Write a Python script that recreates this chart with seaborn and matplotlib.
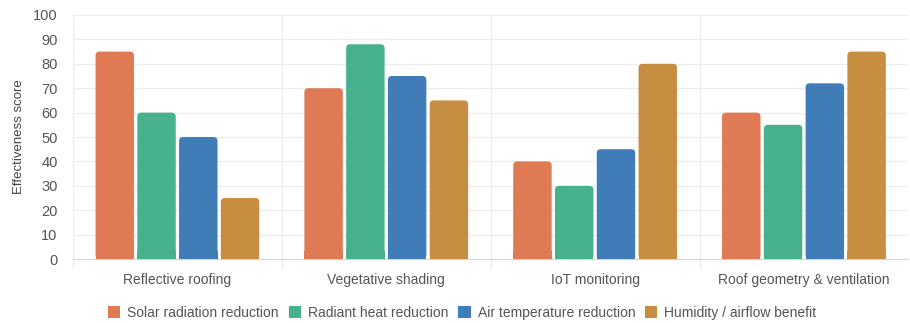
import matplotlib
matplotlib.use("Agg")
import matplotlib.pyplot as plt
import seaborn as sns
import pandas as pd
from matplotlib.patches import FancyBboxPatch, Patch

categories = ["Reflective roofing", "Vegetative shading", "IoT monitoring", "Roof geometry & ventilation"]
series = ["Solar radiation reduction", "Radiant heat reduction", "Air temperature reduction", "Humidity / airflow benefit"]
solar = [85, 70, 40, 60]
radiant = [60, 88, 30, 55]
air = [50, 75, 45, 72]
humidity = [25, 65, 80, 85]
colors = ["#E07A55", "#47B08D", "#3F7CB8", "#C78E41"]

rows = []
for s, vals in zip(series, [solar, radiant, air, humidity]):
    for c, v in zip(categories, vals):
        rows.append({"Strategy": c, "Series": s, "Score": v})
df = pd.DataFrame(rows)

sns.set_style("white")
plt.rcParams['font.family'] = ['Liberation Sans', 'DejaVu Sans']
fig = plt.figure(figsize=(9.1, 3.23), dpi=100)
ax = fig.add_axes([0.0802, 0.198, 0.918, 0.7556])

sns.barplot(data=df, x="Strategy", y="Score", hue="Series", palette=colors,
            width=0.8, gap=0.08, ax=ax, legend=False, saturation=1)

ax.set_ylim(0, 100)
ax.set_xlim(-0.5, 3.5)
fig.canvas.draw()
bbox = ax.get_window_extent()
xpp = (ax.get_xlim()[1] - ax.get_xlim()[0]) / bbox.width
ypp = (ax.get_ylim()[1] - ax.get_ylim()[0]) / bbox.height
patches = list(ax.patches)
for p in patches:
    x, y = p.get_x(), p.get_y()
    w, h = p.get_width(), p.get_height()
    fc = p.get_facecolor()
    p.remove()
    r = 4 * xpp
    fb = FancyBboxPatch((x, y), w, h,
                        boxstyle=f"round,pad=0,rounding_size={r}",
                        mutation_aspect=ypp / xpp,
                        facecolor=fc, edgecolor="none", zorder=3)
    ax.add_patch(fb)
    ax.add_patch(plt.Rectangle((x, y), w, min(h, 8 * ypp), facecolor=fc, edgecolor='none', zorder=3.1))

ax.set_yticks(range(0, 101, 10))
ax.yaxis.grid(True, color="#EBEBEB", linewidth=0.8, zorder=0)
for xv in [0.5, 1.5, 2.5]:
    ax.axvline(xv, color="#EBEBEB", linewidth=0.8, zorder=0)
for sp in ["top", "right", "left"]:
    ax.spines[sp].set_visible(False)
ax.spines["bottom"].set_color("#D5D5D5")
ax.set_xticks([0, 1, 2, 3])
ax.set_xticklabels(categories)
ax.tick_params(axis="x", length=0, pad=10, labelsize=10, labelcolor="#555555")
ax.tick_params(axis="y", length=8, width=0.8, color="#EBEBEB", pad=3, labelsize=10.5, labelcolor="#555555")
for xv in [0.5, 1.5, 2.5]:
    ax.plot([xv, xv], [0, -3.6], color="#EBEBEB", linewidth=0.8, clip_on=False)
ax.plot([-0.5, -0.5], [-3.6, 100], color="#EBEBEB", linewidth=0.8, zorder=0, clip_on=False)
ax.set_xlabel("")
ax.set_ylabel("Effectiveness score", fontsize=9.5, color="#444444", labelpad=6)

handles = [Patch(facecolor=c, edgecolor="none") for c in colors]
fig.legend(handles, series, loc="center", bbox_to_anchor=(0.508, 0.032), ncol=4, frameon=False,
           fontsize=10, handlelength=0.9, handleheight=0.9, handletextpad=0.5, columnspacing=0.7,
           labelcolor="#555555")

fig.savefig("out.png", dpi=100)
